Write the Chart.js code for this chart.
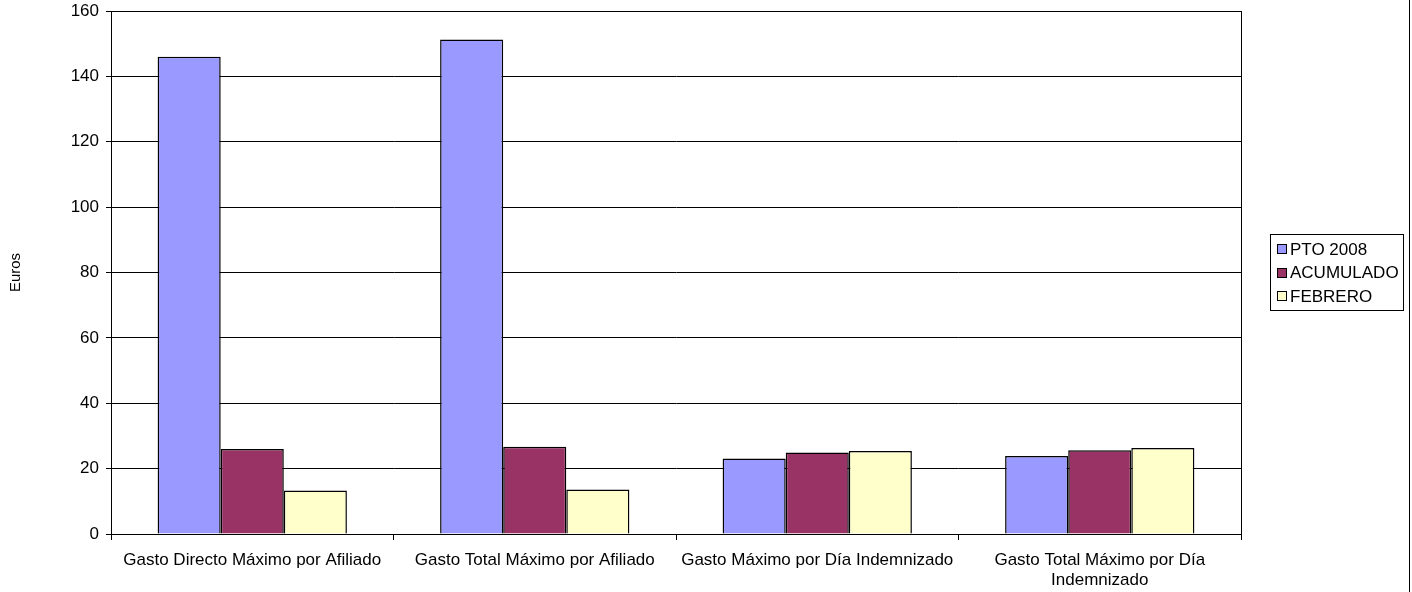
<!DOCTYPE html>
<html>
<head>
<meta charset="utf-8">
<script src="https://cdn.jsdelivr.net/npm/chart.js@4/dist/chart.umd.min.js"></script>
<style>
  html, body { margin: 0; padding: 0; background: #fff; }
  #wrap { width: 1412px; height: 592px; position: relative; }
</style>
</head>
<body>
<div id="wrap"><canvas id="grafica"></canvas></div>
<script>
// Categorías del eje X
const categorias = [
    "Gasto Directo Máximo por Afiliado",
    "Gasto Total Máximo por Afiliado",
    "Gasto Máximo por Día Indemnizado",
    ["Gasto Total Máximo por Día", "Indemnizado"]
];

// Valores de cada serie (Euros)
const pto2008 = [146.0, 151.3, 23.1, 23.9];
const acumulado = [26.0, 26.7, 24.9, 25.6];
const febrero = [13.3, 13.6, 25.4, 26.3];

const nombresSeries = ["PTO 2008", "ACUMULADO", "FEBRERO"];
const coloresSeries = ["#9999FF", "#993366", "#FFFFCC"];

// Ticks del eje Y
const ejeYMin = 0;
const ejeYMax = 160;
const ejeYPaso = 20;

const fuente = "'Liberation Sans', Arial, sans-serif";

// Marco del área de trazado, leyenda con borde y línea derecha
const marcoPlugin = {
    id: "marco",
    afterDraw: function (chart) {
        const ctx = chart.ctx;
        const a = chart.chartArea;
        ctx.save();
        ctx.strokeStyle = "#000";
        ctx.lineWidth = 1;
        ctx.strokeRect(Math.round(a.left) + 0.5, Math.round(a.top) + 0.5,
            Math.round(a.right - a.left), Math.round(a.bottom - a.top));

        // leyenda
        const lx = 1270, ly = 234, lw = 133, lh = 76;
        ctx.strokeRect(lx + 0.5, ly + 0.5, lw, lh);
        ctx.font = "17px " + fuente;
        ctx.textBaseline = "middle";
        chart.data.datasets.forEach(function (ds, i) {
            const y = 249 + i * 23.5;
            ctx.fillStyle = ds.backgroundColor;
            ctx.fillRect(lx + 7, Math.round(y) - 5, 9, 9);
            ctx.strokeRect(lx + 7.5, Math.round(y) - 4.5, 9, 9);
            ctx.fillStyle = "#000";
            ctx.fillText(ds.label, lx + 20, y + 1);
        });

        // línea vertical a la derecha
        ctx.beginPath();
        ctx.moveTo(1409.5, 0);
        ctx.lineTo(1409.5, chart.height);
        ctx.stroke();
        ctx.restore();
    }
};

function crearGrafica() {
    const series = [pto2008, acumulado, febrero];
    const datos = {
        labels: categorias,
        datasets: series.map(function (valores, i) {
            return {
                label: nombresSeries[i],
                data: valores,
                backgroundColor: coloresSeries[i],
                borderColor: "#000",
                borderWidth: 1.5,
                categoryPercentage: 0.67,
                barPercentage: 1.0
            };
        })
    };

    const opciones = {
        responsive: true,
        maintainAspectRatio: false,
        animation: false,
        layout: { padding: { top: 11, right: 171, left: 0, bottom: 0 } },
        plugins: {
            legend: { display: false },
            tooltip: { enabled: false }
        },
        scales: {
            x: {
                offset: true,
                afterFit: function (scale) { scale.height = 58; },
                grid: {
                    offset: true,
                    drawOnChartArea: false,
                    drawTicks: true,
                    tickLength: 6,
                    color: "#000"
                },
                border: { color: "#000" },
                ticks: {
                    color: "#000",
                    font: { family: fuente, size: 17 },
                    padding: 10,
                    maxRotation: 0,
                    autoSkip: false
                }
            },
            y: {
                min: ejeYMin,
                max: ejeYMax,
                afterFit: function (scale) {
                    scale.width = 111;
                    scale.paddingTop = 0;
                    scale.paddingBottom = 0;
                },
                grid: { color: "#000", tickLength: 5 },
                border: { color: "#000" },
                ticks: {
                    stepSize: ejeYPaso,
                    color: "#000",
                    padding: 7,
                    font: { family: fuente, size: 17 }
                },
                title: {
                    display: true,
                    text: "Euros",
                    color: "#000",
                    padding: 7,
                    font: { family: fuente, size: 15 }
                }
            }
        }
    };

    new Chart(document.getElementById("grafica"), {
        type: "bar",
        data: datos,
        options: opciones,
        plugins: [marcoPlugin]
    });
}

window.addEventListener("load", function () {
    crearGrafica();
});
</script>
</body>
</html>
